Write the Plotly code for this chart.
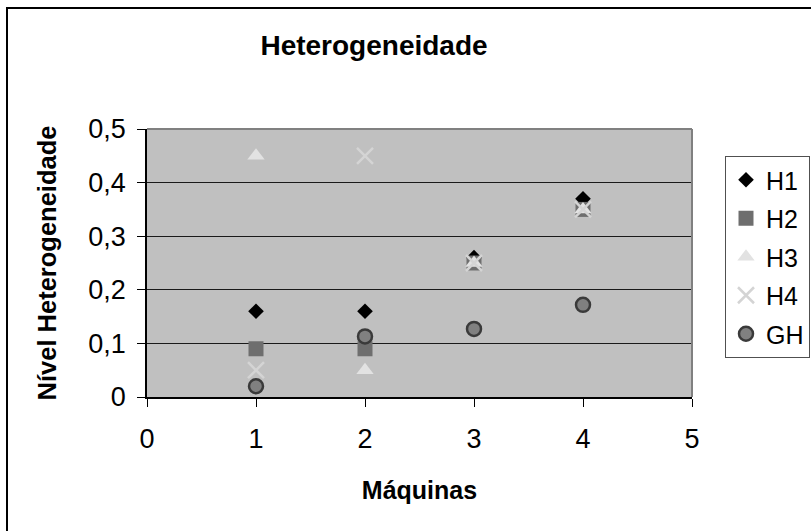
import plotly.graph_objects as go

maquinas = [1, 2, 3, 4]
h1 = [0.16, 0.16, 0.26, 0.37]
h2 = [0.09, 0.09, 0.25, 0.35]
h3 = [0.45, 0.05, 0.25, 0.35]
h4 = [0.05, 0.45, 0.25, 0.35]
gh = [0.02, 0.113, 0.127, 0.172]

W, H = 811, 531
L, R, T, B = 147, 119, 129, 134
pw, ph = W - L - R, H - T - B

def px(x):
    return (x - L) / pw

def py(y):
    return (H - B - y) / ph

FONT = "Liberation Sans, Arial, sans-serif"

fig = go.Figure()
fig.add_trace(go.Scatter(x=maquinas, y=h1, mode="markers", name="H1", legendgroup="a",
                         marker=dict(symbol="diamond", size=12, color="#000000", line=dict(width=0))))
fig.add_trace(go.Scatter(x=maquinas, y=h2, mode="markers", name="H2", legendgroup="b",
                         marker=dict(symbol="square", size=15, color="#6E6E6E", line=dict(width=0))))
fig.add_trace(go.Scatter(x=maquinas, y=h3, mode="markers", name="H3", legendgroup="c",
                         marker=dict(symbol="triangle-up", size=15, color="#E2E2E2", line=dict(width=0))))
fig.add_trace(go.Scatter(x=maquinas, y=h4, mode="markers", name="H4", legendgroup="d",
                         marker=dict(symbol="x-thin", size=16, color="#D4D4D4",
                                     line=dict(width=2.5, color="#D4D4D4"))))
fig.add_trace(go.Scatter(x=maquinas, y=gh, mode="markers", name="GH", legendgroup="e",
                         marker=dict(symbol="circle", size=14, color="#808080",
                                     line=dict(width=2.5, color="#3A3A3A"))))

fig.update_layout(
    width=W, height=H,
    margin=dict(l=L, r=R, t=T, b=B, autoexpand=False),
    paper_bgcolor="white",
    plot_bgcolor="#C0C0C0",
    separators=",.",
    font=dict(family=FONT, size=22, color="black"),
    title=dict(text="<b>Heterogeneidade</b>", font=dict(size=28, family=FONT),
               x=px(374), xref="paper", xanchor="center",
               y=1 - 45 / H, yref="container", yanchor="middle"),
    xaxis=dict(range=[0, 5], dtick=1, tick0=0, ticks="outside", ticklen=8, tickcolor="black",
               showline=True, linecolor="black", linewidth=1.5, showgrid=False, zeroline=False,
               tickfont=dict(size=27), ticklabelstandoff=9,
               title=dict(text="<b>Máquinas</b>", font=dict(size=25), standoff=28)),
    yaxis=dict(range=[0, 0.5], dtick=0.1, tick0=0, ticks="outside", ticklen=8, tickcolor="black",
               showline=True, linecolor="black", linewidth=1.5, showgrid=True,
               gridcolor="#1A1A1A", gridwidth=1, zeroline=False,
               tickfont=dict(size=27), ticklabelstandoff=6,
               title=dict(text="<b>Nível Heterogeneidade</b>", font=dict(size=25.5), standoff=24)),
    legend=dict(x=px(725), y=py(156), xanchor="left", yanchor="top",
                bgcolor="white", bordercolor="#505050", borderwidth=1,
                font=dict(size=25), tracegroupgap=3, itemwidth=30),
    showlegend=True,
    shapes=[
        dict(type="line", xref="paper", yref="paper", x0=0, x1=1, y0=1, y1=1,
             line=dict(color="#808080", width=2)),
        dict(type="line", xref="paper", yref="paper", x0=1, x1=1, y0=0, y1=1,
             line=dict(color="#808080", width=2)),
        dict(type="rect", xref="paper", yref="paper",
             x0=px(7), x1=px(830), y0=py(550), y1=py(8),
             line=dict(color="black", width=2), layer="below"),
    ],
)

fig.write_html("out.html")
